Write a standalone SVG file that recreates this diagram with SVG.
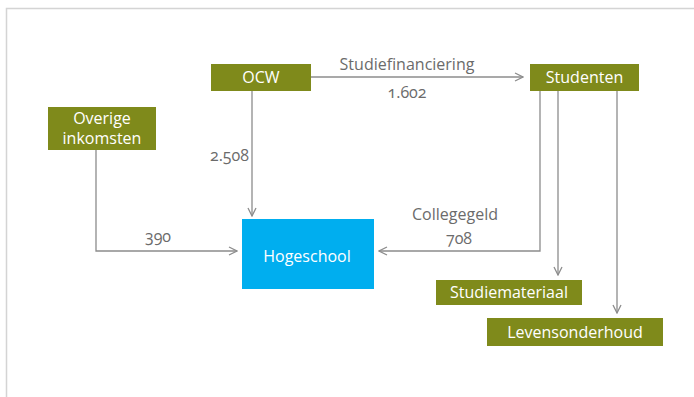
<svg xmlns="http://www.w3.org/2000/svg" width="694" height="397" viewBox="0 0 694 397">
<style>
.g{fill:#7f8a1b}
.b{fill:#00aeef}
.nt{font-family:"Open Sans","Noto Sans",sans-serif;font-size:16px;fill:#ffffff;text-anchor:middle}
.lt{font-family:"Open Sans","Noto Sans",sans-serif;font-size:16px;fill:#6b6b6b;text-anchor:middle;font-variant-numeric:oldstyle-nums}
.c{fill:none;stroke:#8c8c8c;stroke-width:1.3}
</style>
<defs>
<marker id="a" viewBox="0 0 10 10" refX="9" refY="5" markerWidth="10" markerHeight="10" markerUnits="userSpaceOnUse" orient="auto">
<path d="M1,1 L9,5 L1,9" fill="none" stroke="#8c8c8c" stroke-width="1.3"/>
</marker>
</defs>
<rect x="0" y="0" width="694" height="397" fill="#ffffff"/>
<path d="M6.5,397 V8.5 H694" fill="none" stroke="#d4d4d4" stroke-width="1.5"/>
<g id="connectors">
<line class="c" x1="311" y1="77" x2="523" y2="77" marker-end="url(#a)"/>
<line class="c" x1="252" y1="91" x2="252" y2="216" marker-end="url(#a)"/>
<polyline class="c" points="96,150 96,251 237,251" marker-end="url(#a)"/>
<polyline class="c" points="540,91 540,251 379,251" marker-end="url(#a)"/>
<line class="c" x1="558" y1="91" x2="558" y2="275" marker-end="url(#a)"/>
<line class="c" x1="617" y1="91" x2="617" y2="313" marker-end="url(#a)"/>
<text class="lt" x="407" y="70">Studiefinanciering</text>
<text class="lt" x="407" y="98">1.602</text>
<text class="lt" x="249" y="161" style="text-anchor:end">2.508</text>
<text class="lt" x="158" y="242">390</text>
<text class="lt" x="455" y="220">Collegegeld</text>
<text class="lt" x="459" y="244">708</text>
</g>
<g id="ocw"><rect class="g" x="211" y="64" width="100" height="27"/><text class="nt" x="261" y="83">OCW</text></g>
<g id="studenten"><rect class="g" x="530" y="64" width="109" height="27"/><text class="nt" x="584.5" y="83">Studenten</text></g>
<g id="overige"><rect class="g" x="48" y="107" width="108" height="43"/><text class="nt" x="102" y="124">Overige</text><text class="nt" x="102" y="144">inkomsten</text></g>
<g id="hogeschool"><rect class="b" x="242" y="219" width="132" height="70"/><text class="nt" x="307" y="262">Hogeschool</text></g>
<g id="studiemateriaal"><rect class="g" x="436" y="280" width="146" height="25"/><text class="nt" x="509" y="298">Studiemateriaal</text></g>
<g id="levensonderhoud"><rect class="g" x="487" y="318" width="176" height="28"/><text class="nt" x="575" y="338">Levensonderhoud</text></g>
</svg>
